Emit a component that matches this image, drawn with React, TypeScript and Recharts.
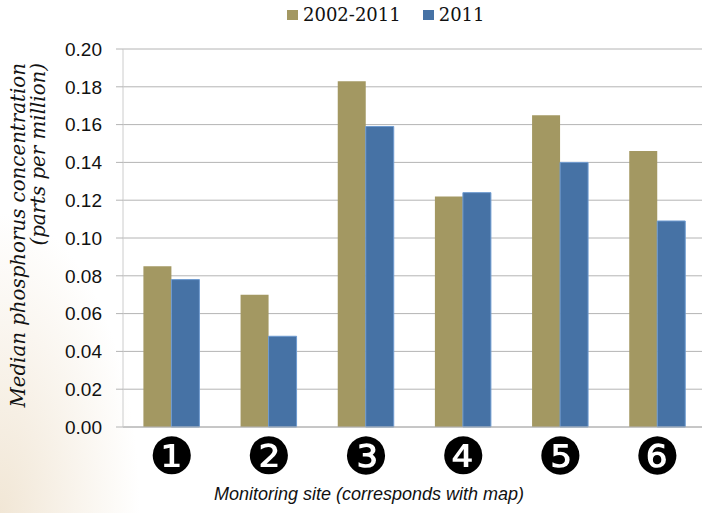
import { BarChart, Bar, XAxis, YAxis, CartesianGrid, Legend } from "recharts";

// Median phosphorus concentration (ppm) by monitoring site
const sites = ["❶", "❷", "❸", "❹", "❺", "❻"];
const decadeMedian = [0.085, 0.07, 0.183, 0.122, 0.165, 0.146];
const yearMedian = [0.078, 0.048, 0.159, 0.124, 0.14, 0.109];
const seriesNames = ["2002-2011", "2011"];
const yTicks = [0, 0.02, 0.04, 0.06, 0.08, 0.1, 0.12, 0.14, 0.16, 0.18, 0.2];

const GOLD = "#a39862";
const BLUE = "#4672a5";
const GRID = "#b4b4b4";

const data = sites.map((site, i) => ({
  site,
  decade: decadeMedian[i],
  year: yearMedian[i],
}));

function LegendBox({ payload }: { payload?: Array<{ value: string; color: string }> }) {
  return (
    <div style={{ display: "flex", marginLeft: 287, fontFamily: "DejaVu Serif", fontSize: 18, color: "#111" }}>
      {(payload ?? []).map((p) => (
        <div key={p.value} style={{ display: "flex", alignItems: "center", marginRight: 22 }}>
          <span style={{ width: 11, height: 10, background: p.color, marginRight: 5, display: "inline-block" }} />
          <span>{p.value}</span>
        </div>
      ))}
    </div>
  );
}

function YTitle({ viewBox }: any) {
  const top = viewBox.y + 14;
  return (
    <g fontFamily="DejaVu Serif" fontStyle="italic" fontSize={19.8} fill="#111">
      <text transform={`translate(25, ${top}) rotate(-90)`} textAnchor="end">
        Median phosphorus concentration
      </text>
      <text transform={`translate(45, ${top}) rotate(-90)`} textAnchor="end">
        (parts per million)
      </text>
    </g>
  );
}

function XTitle({ viewBox }: any) {
  return (
    <text
      x={viewBox.x + 246}
      y={viewBox.y + 73}
      textAnchor="middle"
      fontFamily="Liberation Sans"
      fontStyle="italic"
      fontSize={18}
      fill="#111"
    >
      Monitoring site (corresponds with map)
    </text>
  );
}

export default function App() {
  return (
    <div
      style={{
        position: "absolute",
        left: 0,
        top: 0,
        width: 702,
        height: 513,
        overflow: "hidden",
        background:
          "radial-gradient(ellipse 140px 300px at 0% 100%, rgba(232,214,186,0.6), rgba(255,255,255,0) 100%), #fff",
      }}
    >
      <BarChart
        width={710}
        height={513}
        data={data}
        margin={{ top: 49, right: 4, bottom: 36, left: 0 }}
        barCategoryGap="21%"
        barGap={0}
      >
        <CartesianGrid vertical={false} stroke={GRID} />
        <Legend
          layout="horizontal"
          verticalAlign="middle"
          align="center"
          wrapperStyle={{ top: 4, left: 0, width: 702 }}
          content={<LegendBox />}
        />
        <XAxis
          dataKey="site"
          height={50}
          tickLine={false}
          tickSize={0}
          tickMargin={11}
          axisLine={{ stroke: GRID }}
          tick={{ fontFamily: "DejaVu Sans", fontSize: 51, fill: "#000" }}
          label={<XTitle />}
        />
        <YAxis
          width={123}
          domain={[0, 0.2]}
          ticks={yTicks}
          tickFormatter={(v: number) => v.toFixed(2)}
          tickSize={7}
          tickMargin={14}
          tickLine={{ stroke: GRID }}
          axisLine={{ stroke: "#cccccc" }}
          tick={{ fontFamily: "Liberation Sans", fontSize: 19, fill: "#111" }}
          label={<YTitle />}
        />
        <Bar dataKey="decade" name={seriesNames[0]} fill={GOLD} isAnimationActive={false} />
        <Bar dataKey="year" name={seriesNames[1]} fill={BLUE} stroke="#6e9bd0" strokeWidth={1} isAnimationActive={false} />
      </BarChart>
    </div>
  );
}
